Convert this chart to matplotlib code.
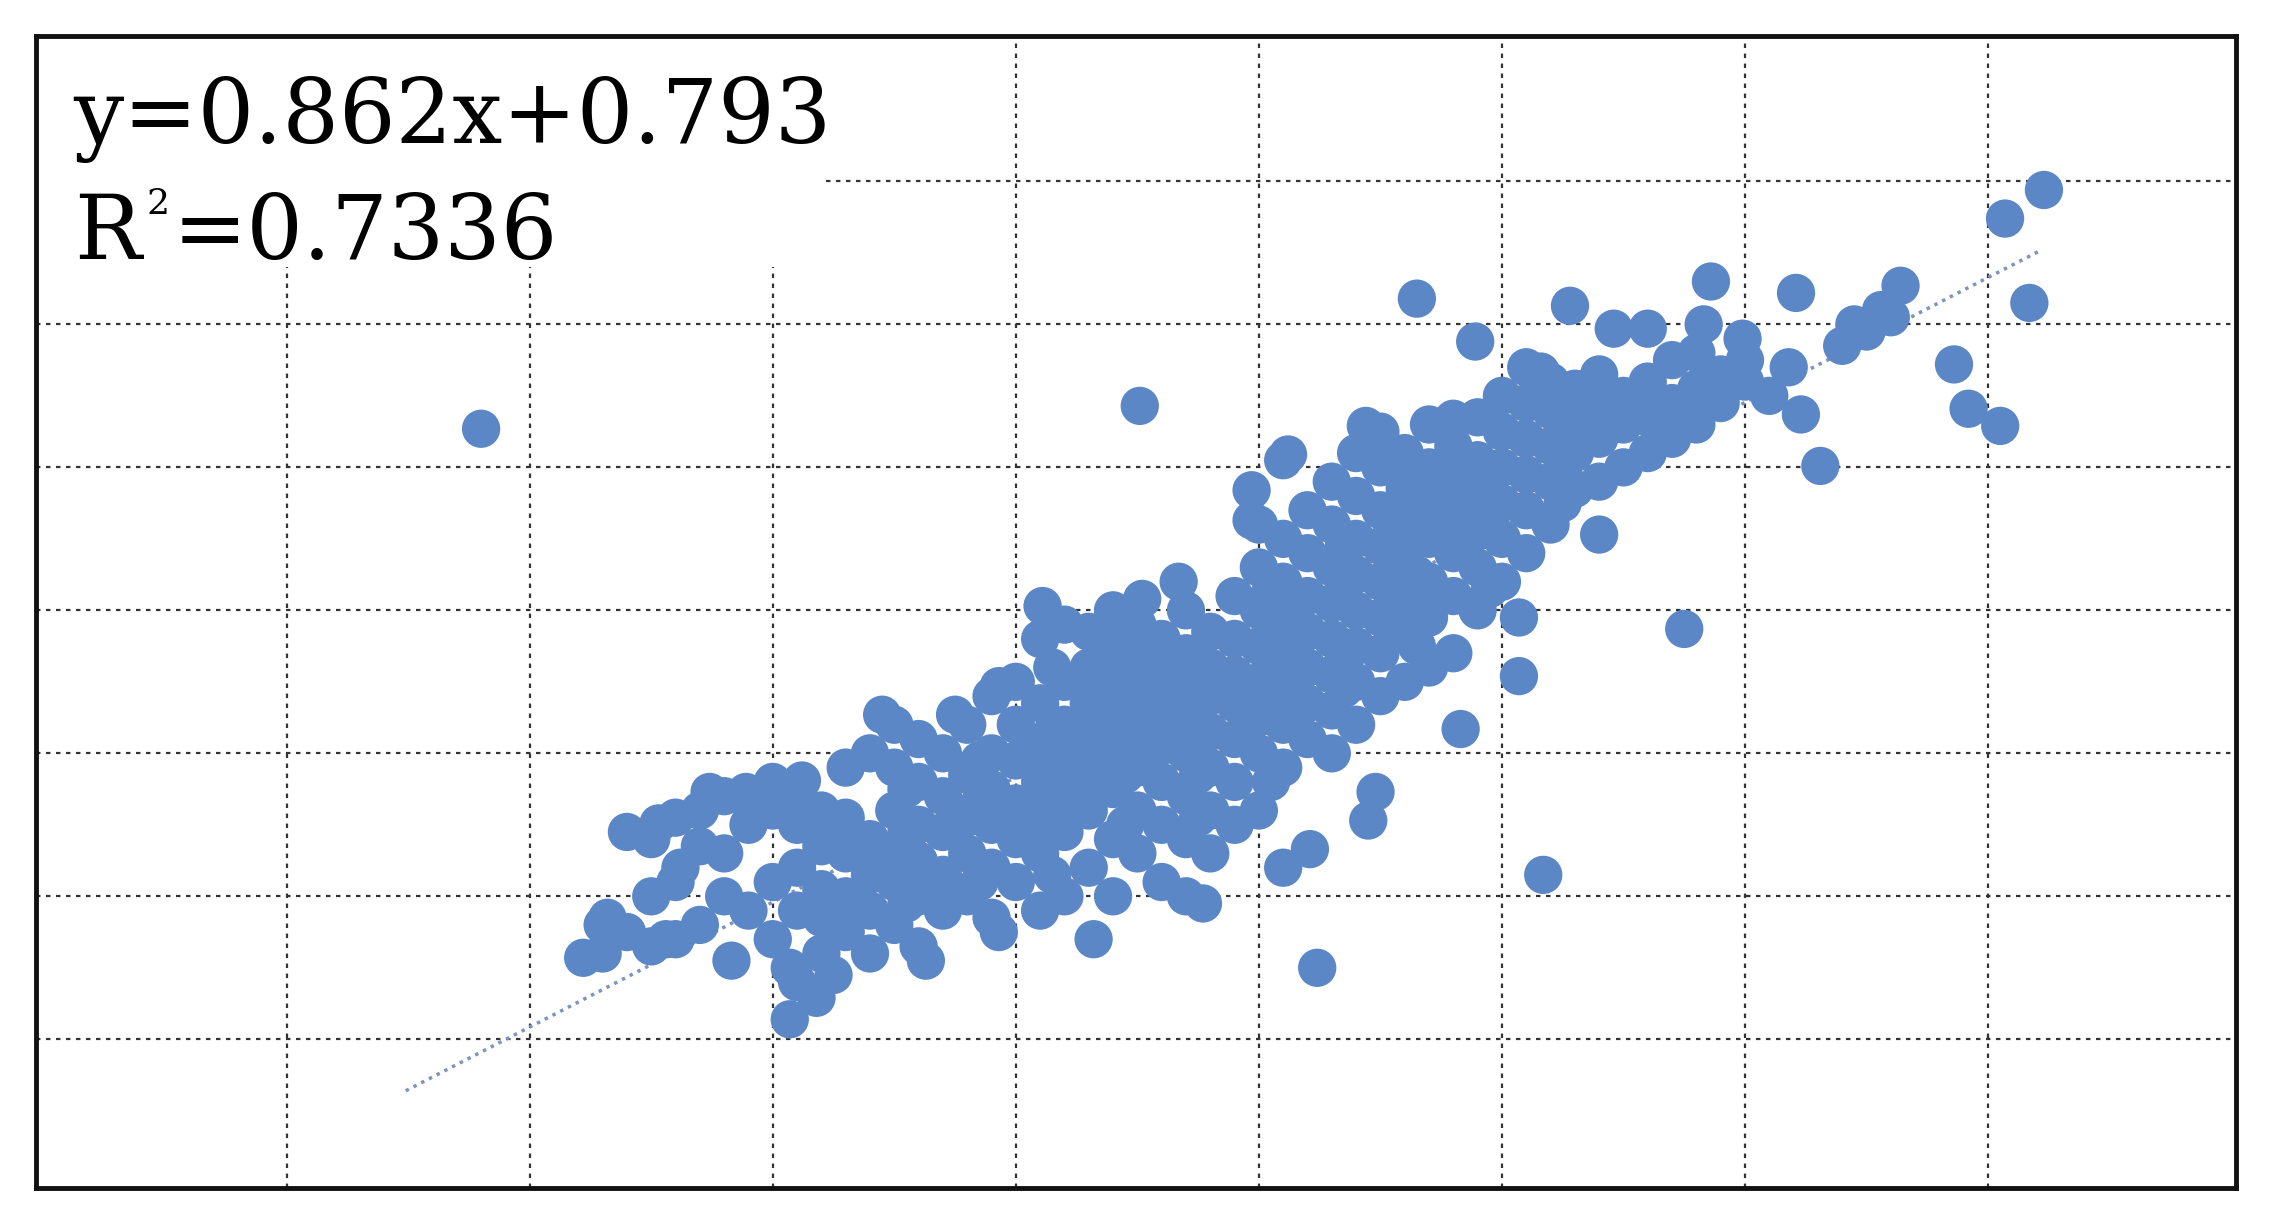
import matplotlib
matplotlib.use("Agg")
import matplotlib.pyplot as plt
from matplotlib.patches import Rectangle

outlier_x = [1.80,4.51,5.65,6.28,6.86,7.21,7.64,8.07,8.23,8.17,7.86,7.92,8.05,7.31,6.75,6.17,5.24,5.89,6.46,6.60,6.83,6.99,7.45,7.56,7.18,7.23,7.40,6.07,6.07,5.83,5.48,5.45,5.21,5.10,4.77,4.32,3.93,3.63,3.07,3.07,3.18,2.83,2.22,2.32,2.56,2.53,2.62,2.74,2.89,3.12,3.45,3.75,3.93,4.11,4.52,4.67,4.97,4.97,5.12,5.44,5.80,6.16,6.34,6.40]
outlier_y = [5.27,5.43,6.18,6.13,6.30,6.22,6.27,6.74,6.94,6.15,5.72,5.41,5.29,5.01,3.87,2.15,1.50,5.88,5.97,5.97,6.00,5.90,6.00,6.10,5.70,5.37,5.85,3.95,3.54,3.17,2.73,2.53,2.33,2.20,1.95,1.70,1.75,1.55,1.50,1.14,1.29,1.55,1.57,1.85,1.70,2.51,2.20,2.73,2.73,2.81,3.27,3.27,3.47,4.03,4.08,4.20,4.84,4.63,5.09,5.29,5.34,5.67,5.55,4.53]

core_cols = {
    2.3: [1.6,1.8], 2.4: [1.75,2.45], 2.5: [1.65,2.0,2.4], 2.6: [1.7,2.1,2.55],
    2.7: [1.8,2.35,2.6], 2.8: [2.0,2.3,2.7], 2.9: [1.9,2.5], 3.0: [1.7,2.1,2.6,2.8],
    3.1: [1.4,1.9,2.2,2.5,2.75], 3.2: [1.6,1.85,2.05,2.35,2.6], 3.3: [1.75,2.0,2.3,2.55,2.9],
    3.4: [1.6,1.9,2.15,2.4,3.0], 3.5: [1.8,2.1,2.3,2.6,2.9,3.2], 3.6: [1.65,2.0,2.25,2.5,2.8,3.1],
    3.7: [1.9,2.15,2.45,2.7,3.0], 3.8: [2.0,2.3,2.55,2.85,3.2], 3.9: [1.85,2.2,2.5,2.75,3.0,3.4],
    4.0: [2.1,2.4,2.65,2.95,3.2,3.5], 4.1: [1.9,2.3,2.55,2.8,3.05,3.35,3.8],
    4.2: [2.0,2.45,2.7,2.95,3.2,3.5,3.9], 4.3: [2.2,2.6,2.85,3.1,3.35,3.6,3.85],
    4.4: [2.0,2.4,2.75,3.0,3.25,3.5,3.75,4.0], 4.5: [2.3,2.6,2.9,3.15,3.4,3.65,3.9],
    4.6: [2.1,2.5,2.8,3.05,3.3,3.55,3.8], 4.7: [2.0,2.4,2.7,3.0,3.2,3.45,3.7,4.0],
    4.8: [2.3,2.6,2.9,3.15,3.4,3.6,3.85], 4.9: [2.5,2.8,3.1,3.35,3.55,3.8,4.1],
    5.0: [2.6,3.0,3.25,3.5,3.75,4.0,4.3,4.6], 5.1: [2.9,3.2,3.45,3.7,3.95,4.2,4.5,5.05],
    5.2: [3.1,3.35,3.6,3.85,4.1,4.4,4.7], 5.3: [3.0,3.3,3.55,3.8,4.05,4.3,4.6,4.9],
    5.4: [3.2,3.5,3.75,4.0,4.25,4.5,4.8,5.1], 5.5: [3.4,3.7,3.95,4.2,4.45,4.7,5.0,5.25],
    5.6: [3.5,3.85,4.1,4.35,4.6,4.85,5.1], 5.7: [3.6,3.95,4.2,4.5,4.75,5.0,5.3],
    5.8: [3.7,4.1,4.4,4.65,4.9,5.15], 5.9: [4.0,4.3,4.55,4.8,5.05,5.35],
    6.0: [4.2,4.5,4.75,5.0,5.25,5.5], 6.1: [4.4,4.7,4.95,5.2,5.45,5.7],
    6.2: [4.6,4.9,5.15,5.4,5.6], 6.3: [4.85,5.1,5.35,5.55], 6.4: [4.9,5.2,5.45,5.65],
    6.5: [5.0,5.3,5.5], 6.6: [5.1,5.35,5.6], 6.7: [5.2,5.45,5.75], 6.8: [5.3,5.55,5.8],
    6.9: [5.45,5.65], 7.0: [5.6,5.75], 7.1: [5.5], 7.5: [5.95], 7.6: [6.05],
    3.25: [1.45,1.95,2.45], 3.55: [1.95,2.45,2.75], 3.85: [2.1,2.65,2.95],
    4.15: [2.15,2.65,3.15,3.6], 4.45: [2.5,2.85,3.35,3.6], 4.75: [2.55,2.85,3.3,3.55],
    5.05: [2.8,3.35,3.6,3.9,4.15], 5.35: [3.45,3.7,4.2,4.45], 5.65: [3.75,4.25,4.7,4.95],
    5.95: [4.15,4.65,4.95], 6.25: [4.75,5.0,5.3],
}

fit_x = [1.49, 8.22]
fit_y = [0.64, 6.52]
eq_text = "y=0.862x+0.793"
r2_main = "R"
r2_sup = "2"
r2_rest = "=0.7336"

xs = list(outlier_x)
ys = list(outlier_y)
for cx, cys in core_cols.items():
    for cy in cys:
        xs.append(cx); ys.append(cy)

fig = plt.figure(figsize=(22.7, 12.26), dpi=100)
ax = fig.add_axes([0.016, 0.031, 0.969, 0.94])
ax.set_xlim(-0.03, 9.02)
ax.set_ylim(-0.04, 8.02)
ax.set_xticks(range(1, 9))
ax.set_yticks(range(1, 8))
ax.set_axisbelow(True)
ax.tick_params(length=0, labelbottom=False, labelleft=False)
ax.grid(True, color="#333333", linestyle=(0, (2, 2.5)), linewidth=1.6)
for s in ax.spines.values():
    s.set_linewidth(3.5)
    s.set_color("#111111")
ax.add_patch(Rectangle((-0.03, 6.4), 3.24, 1.62, facecolor="white", edgecolor="none", zorder=1))
ax.plot(fit_x, fit_y, linestyle=(0, (1, 1.5)), color="#7f93c0", linewidth=2.5, zorder=2)
ax.scatter(xs, ys, s=760, color="#5b87c6", edgecolors="none", zorder=3)
tf = dict(family="DejaVu Serif", fontsize=64, va="baseline", ha="left", zorder=4)
ax.text(0.017, 0.907, eq_text, transform=ax.transAxes, **tf)
ax.text(0.017, 0.806, r2_main, transform=ax.transAxes, **tf)
ax.text(0.050, 0.845, r2_sup, transform=ax.transAxes, family="DejaVu Serif", fontsize=26,
        va="baseline", ha="left", zorder=4)
ax.text(0.062, 0.806, r2_rest, transform=ax.transAxes, **tf)
fig.savefig("out.png", dpi=100)
